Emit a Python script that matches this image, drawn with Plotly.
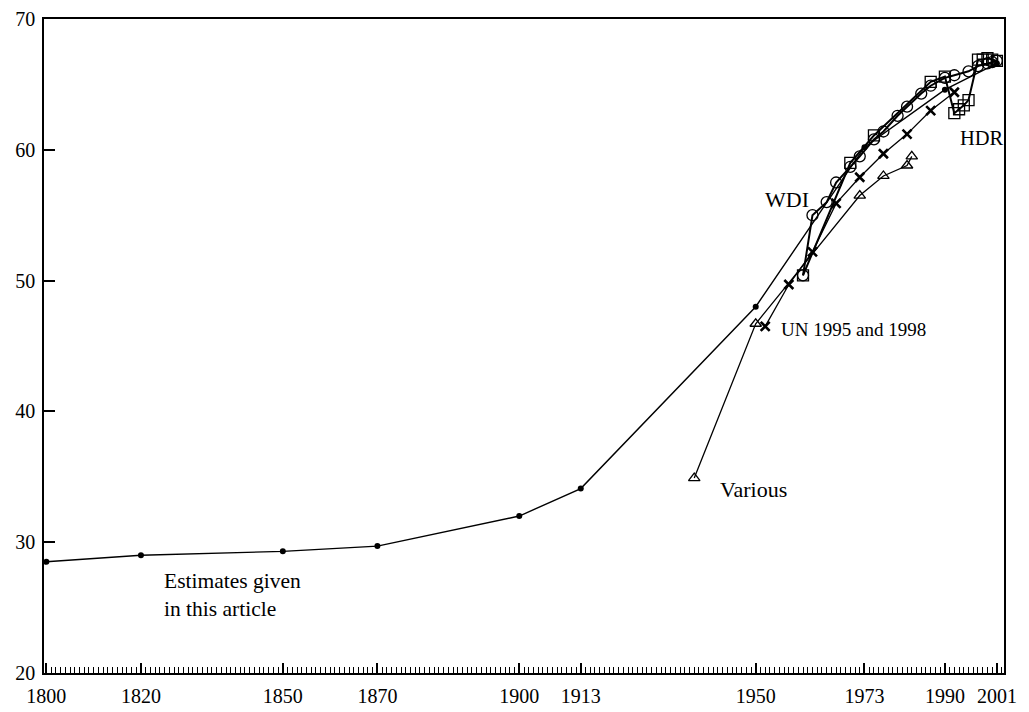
import plotly.graph_objects as go

# ---------------- data ----------------
est_years = [1800, 1820, 1850, 1870, 1900, 1913, 1950, 1973, 1990, 2001]
est_vals = [28.5, 29.0, 29.3, 29.7, 32.0, 34.1, 48.0, 60.2, 64.6, 66.6]

wdi_years = [1960, 1962, 1965, 1967, 1970, 1972, 1975, 1977, 1980, 1982, 1985,
             1987, 1990, 1992, 1995, 1997, 1999, 2000, 2001]
wdi_vals = [50.4, 55.0, 56.0, 57.5, 58.7, 59.5, 60.8, 61.4, 62.6, 63.3, 64.3,
            64.9, 65.5, 65.7, 66.0, 66.4, 66.6, 66.7, 66.8]

hdr_years = [1960, 1970, 1975, 1987, 1990, 1992, 1993, 1994, 1995, 1997, 1998, 1999, 2000, 2001]
hdr_vals = [50.4, 59.0, 61.1, 65.2, 65.6, 62.8, 63.1, 63.4, 63.8, 66.9, 66.9, 67.0, 66.9, 66.8]

un_years = [1952, 1957, 1962, 1967, 1972, 1977, 1982, 1987, 1992]
un_vals = [46.5, 49.7, 52.2, 55.9, 57.9, 59.7, 61.2, 63.0, 64.4]

var_years = [1937, 1950, 1972, 1977, 1982, 1983]
var_vals = [34.9, 46.7, 56.5, 58.0, 58.8, 59.5]

x_ticks = [1800, 1820, 1850, 1870, 1900, 1913, 1950, 1973, 1990, 2001]
y_ticks = [20, 30, 40, 50, 60, 70]

FONT = "Liberation Serif"
BLACK = "black"

fig = go.Figure()

fig.add_trace(go.Scatter(
    x=est_years, y=est_vals, mode="lines+markers", name="Estimates",
    line=dict(color=BLACK, width=1.4),
    marker=dict(symbol="circle", size=6, color=BLACK)))

fig.add_trace(go.Scatter(
    x=var_years, y=var_vals, mode="lines+markers", name="Various",
    line=dict(color=BLACK, width=1.3),
    marker=dict(symbol="triangle-up-open", size=10, color=BLACK, line=dict(width=1.3))))

fig.add_trace(go.Scatter(
    x=un_years, y=un_vals, mode="lines+markers", name="UN",
    line=dict(color=BLACK, width=1.3),
    marker=dict(symbol="x-thin", size=9, color=BLACK, line=dict(width=2.6, color=BLACK))))

fig.add_trace(go.Scatter(
    x=hdr_years, y=hdr_vals, mode="lines+markers", name="HDR",
    line=dict(color=BLACK, width=2),
    marker=dict(symbol="square-open", size=11, color=BLACK, line=dict(width=1.3))))

fig.add_trace(go.Scatter(
    x=wdi_years, y=wdi_vals, mode="lines+markers", name="WDI",
    line=dict(color=BLACK, width=2),
    marker=dict(symbol="circle-open", size=11, color=BLACK, line=dict(width=1.3))))

annotations = [
    dict(x=1951.6, y=56.2, text="WDI", xanchor="left", yanchor="middle", size=22),
    dict(x=1992.7, y=60.9, text="HDR", xanchor="left", yanchor="middle", size=20.5),
    dict(x=1954.9, y=46.3, text="UN 1995 and 1998", xanchor="left", yanchor="middle", size=19),
    dict(x=1942.1, y=34.05, text="Various", xanchor="left", yanchor="middle", size=22),
    dict(x=1824.4, y=25.97, text="Estimates given<br>in this article", xanchor="left",
         yanchor="middle", align="left", size=21.5),
]
for a in annotations:
    sz = a.pop("size")
    a.update(showarrow=False, font=dict(family=FONT, size=sz, color=BLACK), xref="x", yref="y")

fig.update_layout(
    width=1021, height=704,
    margin=dict(l=36, r=25, t=11, b=39, autoexpand=False),
    paper_bgcolor="white", plot_bgcolor="white",
    showlegend=False,
    annotations=annotations,
    font=dict(family=FONT, size=20, color=BLACK),
)

fig.update_xaxes(
    range=[1799.5, 2002.5], automargin=False,
    tickmode="array", tickvals=x_ticks, ticktext=[str(v) for v in x_ticks],
    ticks="inside", ticklen=10, tickwidth=1.5, tickcolor=BLACK,
    minor=dict(tickmode="linear", tick0=1800, dtick=1, ticks="inside", ticklen=6,
               tickwidth=1, tickcolor=BLACK, showgrid=False),
    showline=True, linecolor=BLACK, linewidth=1.5, mirror=True,
    showgrid=False, zeroline=False, ticklabelstandoff=4, ticklabeloverflow="allow",
    tickfont=dict(family=FONT, size=20, color=BLACK),
)
fig.update_yaxes(
    range=[20, 70], automargin=False,
    tickmode="array", tickvals=y_ticks,
    ticks="inside", ticklen=11, tickwidth=1.5, tickcolor=BLACK,
    showline=True, linecolor=BLACK, linewidth=1.5, mirror=True,
    showgrid=False, zeroline=False, ticklabelstandoff=3, ticklabeloverflow="allow",
    tickfont=dict(family=FONT, size=20, color=BLACK),
)

fig.write_html("out.html")
